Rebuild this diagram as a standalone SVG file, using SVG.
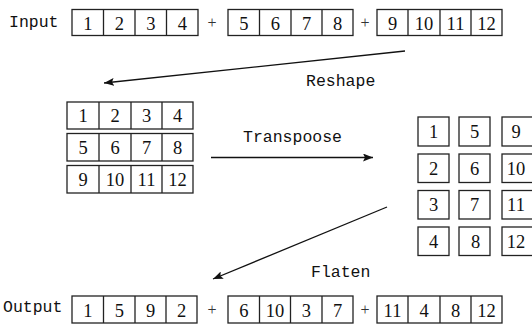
<svg xmlns="http://www.w3.org/2000/svg" width="532" height="324" viewBox="0 0 532 324">
  <style>
    .box { fill: #fff; stroke: #222; stroke-width: 1.3; }
    .div { stroke: #222; stroke-width: 1.3; }
    .num { font-family: "Liberation Serif", "DejaVu Serif", serif; font-size: 18.5px; fill: #111; text-anchor: middle; }
    .plus { font-family: "Liberation Serif", "DejaVu Serif", serif; font-size: 16px; fill: #333; text-anchor: middle; }
    .lbl { font-family: "Liberation Mono", "DejaVu Sans Mono", monospace; font-size: 16.5px; fill: #111; }
    .edge { stroke: #111; stroke-width: 1.3; fill: none; marker-end: url(#arrow); }
  </style>
  <defs>
    <marker id="arrow" viewBox="0 0 10 8" refX="10" refY="4" markerWidth="10" markerHeight="8" markerUnits="userSpaceOnUse" orient="auto">
      <path d="M0,0 L10,4 L0,8 L2,4 Z" fill="#111"/>
    </marker>
  </defs>

  <!-- input row -->
  <g id="input">
    <text class="lbl" x="9" y="27">Input</text>
    <g id="input-a">
      <rect class="box" x="72" y="9.5" width="126" height="26"/>
      <path class="div" d="M103.5,9.5V35.5M135,9.5V35.5M166.5,9.5V35.5"/>
      <text class="num" x="87.75" y="29.5">1</text>
      <text class="num" x="119.25" y="29.5">2</text>
      <text class="num" x="150.75" y="29.5">3</text>
      <text class="num" x="182.25" y="29.5">4</text>
    </g>
    <text class="plus" x="212" y="28">+</text>
    <g id="input-b">
      <rect class="box" x="228" y="9.5" width="125" height="26"/>
      <path class="div" d="M259.5,9.5V35.5M291,9.5V35.5M322,9.5V35.5"/>
      <text class="num" x="243.75" y="29.5">5</text>
      <text class="num" x="275.25" y="29.5">6</text>
      <text class="num" x="306.5" y="29.5">7</text>
      <text class="num" x="337.5" y="29.5">8</text>
    </g>
    <text class="plus" x="365" y="28">+</text>
    <g id="input-c">
      <rect class="box" x="377" y="9.5" width="125" height="26"/>
      <path class="div" d="M408,9.5V35.5M440,9.5V35.5M471,9.5V35.5"/>
      <text class="num" x="392.5" y="29.5">9</text>
      <text class="num" x="424" y="29.5">10</text>
      <text class="num" x="455.5" y="29.5">11</text>
      <text class="num" x="486.5" y="29.5">12</text>
    </g>
  </g>

  <!-- reshaped 3x4 matrix -->
  <g id="matrix">
    <g id="row-1">
      <rect class="box" x="67" y="102" width="126" height="27"/>
      <path class="div" d="M99,102V129M131,102V129M162,102V129"/>
      <text class="num" x="83" y="122">1</text>
      <text class="num" x="115" y="122">2</text>
      <text class="num" x="146.5" y="122">3</text>
      <text class="num" x="177.5" y="122">4</text>
    </g>
    <g id="row-2">
      <rect class="box" x="67" y="133.5" width="126" height="27.5"/>
      <path class="div" d="M99,133.5V161M131,133.5V161M162,133.5V161"/>
      <text class="num" x="83" y="153.5">5</text>
      <text class="num" x="115" y="153.5">6</text>
      <text class="num" x="146.5" y="153.5">7</text>
      <text class="num" x="177.5" y="153.5">8</text>
    </g>
    <g id="row-3">
      <rect class="box" x="67" y="165.5" width="126" height="27.5"/>
      <path class="div" d="M99,165.5V193M131,165.5V193M162,165.5V193"/>
      <text class="num" x="83" y="185.5">9</text>
      <text class="num" x="115" y="185.5">10</text>
      <text class="num" x="146.5" y="185.5">11</text>
      <text class="num" x="177.5" y="185.5">12</text>
    </g>
  </g>

  <!-- transposed 4x3 grid -->
  <g id="transposed">
    <rect class="box" x="418" y="117" width="31" height="29"/>
    <rect class="box" x="459" y="117" width="31" height="29"/>
    <rect class="box" x="502" y="117" width="31" height="29"/>
    <rect class="box" x="418" y="154" width="31" height="28.5"/>
    <rect class="box" x="459" y="154" width="31" height="28.5"/>
    <rect class="box" x="502" y="154" width="31" height="28.5"/>
    <rect class="box" x="418" y="190.5" width="31" height="28.5"/>
    <rect class="box" x="459" y="190.5" width="31" height="28.5"/>
    <rect class="box" x="502" y="190.5" width="31" height="28.5"/>
    <rect class="box" x="418" y="227" width="31" height="28.5"/>
    <rect class="box" x="459" y="227" width="31" height="28.5"/>
    <rect class="box" x="502" y="227" width="31" height="28.5"/>
    <text class="num" x="433.5" y="138">1</text>
    <text class="num" x="474.5" y="138">5</text>
    <text class="num" x="516" y="138">9</text>
    <text class="num" x="433.5" y="175">2</text>
    <text class="num" x="474.5" y="175">6</text>
    <text class="num" x="516" y="175">10</text>
    <text class="num" x="433.5" y="211">3</text>
    <text class="num" x="474.5" y="211">7</text>
    <text class="num" x="516" y="211">11</text>
    <text class="num" x="433.5" y="248">4</text>
    <text class="num" x="475.5" y="248">8</text>
    <text class="num" x="516" y="248">12</text>
  </g>

  <!-- output row -->
  <g id="output">
    <text class="lbl" x="3" y="312">Output</text>
    <g id="output-a">
      <rect class="box" x="72" y="296" width="125" height="27"/>
      <path class="div" d="M103.5,296V323M135,296V323M166,296V323"/>
      <text class="num" x="87.75" y="316.5">1</text>
      <text class="num" x="119.25" y="316.5">5</text>
      <text class="num" x="150.5" y="316.5">9</text>
      <text class="num" x="181.5" y="316.5">2</text>
    </g>
    <text class="plus" x="212" y="315">+</text>
    <g id="output-b">
      <rect class="box" x="228" y="296" width="125" height="27"/>
      <path class="div" d="M259.5,296V323M290.5,296V323M322,296V323"/>
      <text class="num" x="243.75" y="316.5">6</text>
      <text class="num" x="275" y="316.5">10</text>
      <text class="num" x="306.25" y="316.5">3</text>
      <text class="num" x="337.5" y="316.5">7</text>
    </g>
    <text class="plus" x="365" y="315">+</text>
    <g id="output-c">
      <rect class="box" x="377" y="296" width="125" height="27"/>
      <path class="div" d="M408,296V323M440,296V323M471,296V323"/>
      <text class="num" x="392.5" y="316.5">11</text>
      <text class="num" x="424" y="316.5">4</text>
      <text class="num" x="455.5" y="316.5">8</text>
      <text class="num" x="486.5" y="316.5">12</text>
    </g>
  </g>

  <!-- connectors -->
  <g id="connectors">
    <line class="edge" x1="405" y1="51" x2="104" y2="83"/>
    <line class="edge" x1="211" y1="157.5" x2="373" y2="157.5"/>
    <line class="edge" x1="387" y1="207" x2="213" y2="279"/>
    <text class="lbl" x="306" y="86">Reshape</text>
    <text class="lbl" x="243" y="142">Transpoose</text>
    <text class="lbl" x="311" y="277">Flaten</text>
  </g>
</svg>
